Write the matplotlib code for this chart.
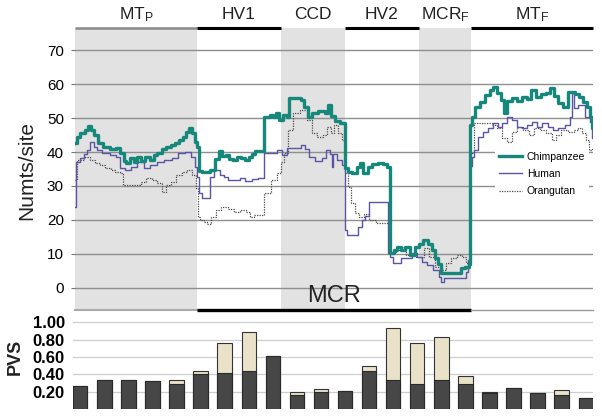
import matplotlib.pyplot as plt
import matplotlib.transforms as mtransforms

plt.rcParams['font.family'] = ['Liberation Sans', 'DejaVu Sans']
plt.rcParams['mathtext.fontset'] = 'custom'
plt.rcParams['mathtext.rm'] = 'Liberation Sans'
plt.rcParams['mathtext.it'] = 'Liberation Sans'

# region boundaries (position along the alignment) and labels
region_names = ['MT$_\\mathrm{P}$', 'HV1', 'CCD', 'HV2', 'MCR$_\\mathrm{F}$', 'MT$_\\mathrm{F}$']
region_edges = [0, 122, 206, 270, 344, 396, 518]
region_shaded = [True, False, True, False, True, False]
top_bar = ['#8a8a8a', 'black', None, 'black', None, 'black']

# numts per site, step series as (position, value)
chimp = [(0, 42.6), (2, 44.5), (5, 45.6), (10, 46.5), (13, 47.8), (16, 46.5), (19, 45.0), (23, 42.7),
         (28, 41.5), (35, 40.8), (41, 41.2), (45, 39.7), (49, 37.5), (51, 36.8), (55, 38.2), (59, 37.2),
         (62, 38.5), (66, 37.5), (70, 38.5), (75, 37.8), (79, 39.2), (82, 39.7), (87, 40.8), (91, 41.6),
         (96, 42.2), (100, 42.8), (104, 43.6), (108, 44.5), (111, 45.8), (114, 47.2), (117, 45.5),
         (120, 43.0), (122, 41.6), (124, 34.5), (127, 34.0), (135, 34.7), (140, 38.0), (144, 40.3),
         (147, 38.8), (151, 39.2), (154, 38.0), (158, 37.6), (162, 38.4), (166, 38.2), (170, 37.6),
         (174, 38.6), (177, 39.4), (180, 40.2), (189, 50.4), (195, 51.0), (198, 50.2), (201, 51.5),
         (204, 49.6), (208, 51.0), (212, 50.4), (214, 56.0), (226, 55.5), (229, 53.4), (233, 50.4),
         (237, 51.5), (243, 52.2), (250, 51.6), (253, 53.9), (256, 50.6), (260, 49.2), (265, 48.6),
         (270, 35.3), (273, 34.2), (277, 33.8), (282, 35.7), (285, 36.8), (288, 33.8), (293, 35.5),
         (297, 36.5), (303, 36.8), (308, 36.6), (312, 35.7), (315, 10.2), (319, 11.0), (322, 12.1),
         (326, 11.1), (330, 12.0), (335, 9.6), (340, 12.1), (344, 13.0), (348, 14.1), (353, 13.0),
         (357, 11.1), (360, 8.8), (363, 7.0), (366, 4.3), (386, 5.8), (390, 6.2), (394, 7.0), (395, 48.0),
         (397, 50.4), (400, 53.4), (405, 54.9), (410, 56.8), (415, 58.2), (418, 59.3), (422, 57.4),
         (426, 55.4), (429, 51.5), (432, 55.0), (437, 56.0), (442, 55.2), (447, 56.3), (452, 55.6),
         (456, 58.3), (461, 56.3), (466, 57.0), (471, 57.5), (475, 58.9), (479, 56.5), (483, 54.5),
         (488, 53.4), (493, 57.8), (500, 57.0), (504, 56.3), (508, 54.9), (512, 53.4), (515, 50.4),
         (517, 47.0)]

human = [(0, 23.9), (1, 37.2), (5, 38.3), (9, 39.5), (12, 40.6), (15, 43.1), (19, 41.5), (22, 40.6),
         (27, 39.7), (35, 39.2), (41, 38.6), (45, 35.3), (50, 34.7), (56, 35.7), (62, 37.2), (69, 35.3),
         (75, 36.2), (82, 37.0), (89, 37.7), (97, 38.3), (103, 39.7), (110, 40.1), (116, 38.6), (120, 35.7),
         (122, 32.7), (124, 27.9), (127, 26.5), (135, 32.7), (139, 34.7), (145, 33.2), (149, 32.6),
         (153, 31.8), (165, 32.2), (170, 31.6), (177, 32.0), (183, 32.4), (189, 39.7), (202, 40.6),
         (207, 39.1), (212, 41.2), (226, 42.1), (230, 40.8), (234, 38.6), (240, 37.5), (247, 38.2),
         (251, 40.6), (255, 39.5), (257, 35.7), (258, 39.3), (262, 37.7), (267, 36.2), (270, 17.0),
         (272, 15.5), (283, 18.0), (287, 20.0), (290, 21.0), (294, 25.4), (313, 10.2), (315, 9.0),
         (318, 7.3), (326, 8.8), (337, 10.2), (342, 9.1), (347, 7.7), (352, 6.7), (358, 5.2), (364, 3.2),
         (366, 1.8), (369, 2.9), (391, 4.7), (393, 8.2), (395, 36.0), (397, 38.6), (399, 40.6), (403, 44.5),
         (408, 46.0), (413, 47.0), (418, 48.5), (423, 47.5), (427, 48.6), (432, 50.4), (437, 49.5),
         (442, 47.5), (447, 47.0), (452, 48.0), (457, 49.0), (462, 47.5), (467, 48.6), (473, 47.5),
         (478, 46.5), (483, 47.2), (490, 48.0), (495, 50.4), (497, 57.4), (499, 53.0), (503, 53.9),
         (510, 50.4), (515, 49.0), (517, 44.0)]

orang = [(0, 31.8), (2, 37.7), (9, 38.6), (15, 37.7), (20, 36.8), (25, 36.2), (30, 35.3), (36, 34.8),
         (40, 34.2), (45, 33.8), (48, 30.3), (66, 31.3), (71, 32.4), (77, 31.8), (82, 30.8), (87, 28.3),
         (91, 30.3), (96, 31.3), (101, 33.2), (107, 34.2), (112, 34.7), (117, 33.2), (121, 29.4),
         (123, 20.9), (125, 20.0), (129, 19.4), (132, 18.8), (136, 20.9), (141, 22.9), (146, 23.9),
         (153, 23.2), (159, 22.4), (165, 22.9), (171, 22.4), (175, 20.9), (179, 21.4), (189, 27.9),
         (196, 31.8), (202, 33.8), (206, 37.2), (209, 39.7), (213, 46.5), (218, 51.5), (225, 52.4),
         (232, 49.5), (237, 45.6), (242, 44.5), (248, 45.0), (252, 47.5), (256, 45.5), (259, 48.0),
         (263, 45.6), (267, 43.6), (270, 33.8), (273, 29.8), (276, 25.0), (280, 22.0), (284, 20.9),
         (289, 21.6), (294, 20.0), (301, 19.1), (314, 10.2), (321, 11.1), (326, 12.1), (331, 9.6),
         (341, 9.1), (349, 11.7), (354, 9.1), (360, 6.2), (367, 5.2), (371, 7.3), (376, 8.8), (382, 9.6),
         (387, 9.1), (391, 7.3), (395, 39.7), (399, 48.5), (417, 48.0), (422, 47.0), (427, 44.0),
         (432, 43.1), (437, 46.0), (442, 47.5), (448, 46.5), (454, 45.0), (459, 47.0), (465, 46.5),
         (471, 45.5), (477, 43.6), (481, 45.0), (486, 46.5), (493, 46.0), (499, 46.5), (503, 47.0),
         (507, 45.6), (511, 43.6), (514, 40.6), (517, 41.0)]

# PVS bars (22 windows): dark part and total height
pvs_dark = [0.26, 0.34, 0.33, 0.32, 0.29, 0.40, 0.41, 0.435, 0.61, 0.16, 0.20, 0.21, 0.44, 0.335, 0.29,
            0.335, 0.29, 0.19, 0.245, 0.19, 0.165, 0.13]
pvs_total = [0.26, 0.34, 0.33, 0.32, 0.34, 0.44, 0.765, 0.89, 0.61, 0.20, 0.23, 0.21, 0.50, 0.93, 0.765,
             0.83, 0.38, 0.20, 0.245, 0.19, 0.22, 0.13]

X_END = region_edges[-1]

fig = plt.figure(figsize=(6.02, 4.18), dpi=100)
ax = fig.add_axes([75 / 602, 1 - 310 / 418, 518 / 602, 282 / 418])
ax2 = fig.add_axes([73 / 602, 1 - 409 / 418, 520 / 602, 91 / 418])

# ---- top panel ----
for i in range(len(region_names)):
    if region_shaded[i]:
        ax.axvspan(region_edges[i], region_edges[i + 1], color='#e2e2e2', lw=0, zorder=0)

for v in range(0, 80, 10):
    ax.axhline(v, color='#8f8f8f', lw=1, zorder=1)


def stepline(pairs, **kw):
    xs = [p[0] for p in pairs] + [X_END]
    ys = [p[1] for p in pairs] + [pairs[-1][1]]
    ax.step(xs, ys, where='post', **kw)


stepline(orang, color='#4a4a4a', lw=0.9, ls=(0, (1, 1)), zorder=3, label='Orangutan')
stepline(human, color='#5b55a4', lw=1.0, zorder=4, label='Human')
stepline(chimp, color='#16877b', lw=2.4, zorder=5, label='Chimpanzee')

ax.set_xlim(0, X_END)
ax.set_ylim(-6.6, 76.6)
ax.set_yticks(range(0, 80, 10))
ax.set_xticks([])
for s in ax.spines.values():
    s.set_visible(False)
ax.tick_params(axis='y', length=3, color='#777777', labelsize=11, pad=5)

trans = mtransforms.blended_transform_factory(ax.transData, ax.transAxes)
for i, name in enumerate(region_names):
    mid = (region_edges[i] + region_edges[i + 1]) / 2
    ax.text(mid, 1.047, name, transform=trans, ha='center', va='center', fontsize=12.5, color='#222222')
    if top_bar[i]:
        ax.plot([region_edges[i], region_edges[i + 1]], [1, 1], transform=trans, clip_on=False,
                color=top_bar[i], lw=2.2 if top_bar[i] == 'black' else 1.8, solid_capstyle='butt')

# MCR span underneath
ax.plot([region_edges[0], region_edges[1]], [0, 0], transform=trans, clip_on=False, color='#aaaaaa', lw=1.5)
ax.plot([region_edges[1], region_edges[5]], [0, 0], transform=trans, clip_on=False, color='black', lw=2.4,
        solid_capstyle='butt')
ax.plot([region_edges[5], region_edges[6]], [0, 0], transform=trans, clip_on=False, color='#999999', lw=1)
ax.text((region_edges[1] + region_edges[5]) / 2, 0.012, 'MCR', transform=trans, ha='center', va='bottom',
        fontsize=17, color='#222222', zorder=6)

h, l = ax.get_legend_handles_labels()
leg = ax.legend(h[::-1], l[::-1], loc='upper left', bbox_to_anchor=(0.8, 0.595), fontsize=7.5,
                frameon=True, facecolor='white', edgecolor='none', framealpha=1, fancybox=False,
                handlelength=2.2, handletextpad=0.5, labelspacing=0.7, borderpad=0.4)
leg.set_zorder(7)

fig.text(27 / 602, 1 - 170 / 418, 'Numts/site', rotation=90, ha='center', va='center', fontsize=15,
         color='#222222')

# ---- bottom panel ----
xs = list(range(len(pvs_dark)))
for v in [0.2, 0.4, 0.6, 0.8, 1.0]:
    ax2.axhline(v, color='#cfcfcf', lw=0.9, zorder=0)
ax2.bar(xs, pvs_total, width=0.6, color='#e9e2c9', edgecolor='#333333', lw=0.8, zorder=2)
ax2.bar(xs, pvs_dark, width=0.6, color='#474747', edgecolor='#2a2a2a', lw=0.8, zorder=3)
ax2.set_xlim(-0.3, len(xs) - 0.7)
ax2.set_ylim(0, 1.05)
ax2.set_yticks([0.2, 0.4, 0.6, 0.8, 1.0])
ax2.set_yticklabels(['0.20', '0.40', '0.60', '0.80', '1.00'])
ax2.set_xticks([])
for s in ax2.spines.values():
    s.set_visible(False)
ax2.tick_params(axis='y', length=0, labelsize=12, pad=6)
for t in ax2.get_yticklabels():
    t.set_fontweight('bold')
fig.text(15 / 602, 1 - 357 / 418, 'PVS', rotation=90, ha='center', va='center', fontsize=13,
         fontweight='bold', color='#222222')

fig.savefig('out.png', dpi=100, facecolor='white')
